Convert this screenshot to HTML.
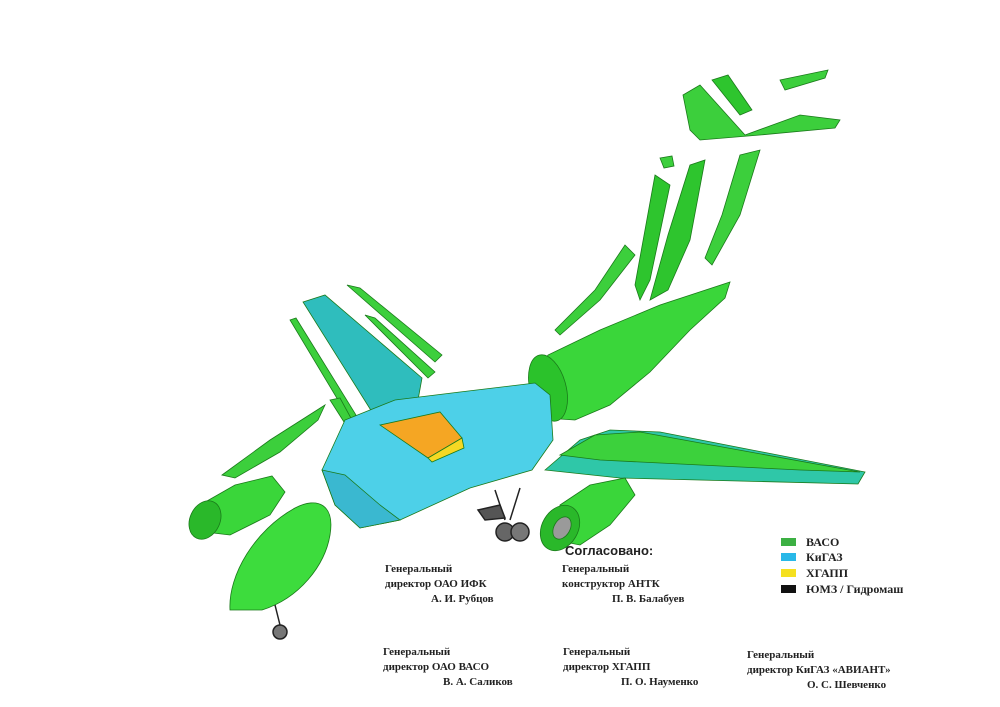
<!DOCTYPE html>
<html><head><meta charset="utf-8"><style>
body{margin:0;background:#fff;width:1000px;height:707px;overflow:hidden;position:relative}
svg{position:absolute;left:0;top:0}
.t{position:absolute;font-family:"Liberation Serif",serif;font-weight:bold;font-size:11px;line-height:15px;color:#222}
.s{position:absolute;font-family:"Liberation Sans",sans-serif;font-weight:bold;font-size:13px;color:#222}
</style></head><body>
<svg width="1000" height="707" viewBox="0 0 1000 707">
<g stroke="#1a7a1a" stroke-width="0.8">
<polygon points="683,95 700,85 745,135 800,115 840,120 835,128 760,135 700,140 690,130" fill="#3ccf3c"/>
<polygon points="712,80 728,75 752,110 740,115" fill="#2ec52e"/>
<polygon points="780,80 828,70 825,78 785,90" fill="#3ccf3c"/>
<polygon points="660,158 672,156 674,166 664,168" fill="#3ccf3c"/>
<polygon points="690,165 705,160 690,240 668,290 650,300 668,235" fill="#2ec52e"/>
<polygon points="740,155 760,150 740,215 712,265 705,258 722,215" fill="#3ccf3c"/>
<polygon points="625,245 635,255 600,300 560,335 555,330 595,290" fill="#3ccf3c"/>
<polygon points="655,175 670,185 650,280 640,300 635,285" fill="#2ec52e"/>
<polygon points="530,385 548,355 600,330 660,305 730,282 725,298 690,330 650,372 610,405 575,420 545,418" fill="#3ad63a"/>
<ellipse cx="548" cy="388" rx="18" ry="34" transform="rotate(-15 548 388)" fill="#2bc22b"/>
<polygon points="545,470 580,440 610,430 660,432 865,472 858,484 620,478" fill="#2fc7a8"/>
<polygon points="560,455 595,435 640,432 860,472 800,470 600,460" fill="#3cd13c"/>
<polygon points="560,505 590,485 625,478 635,495 610,525 580,545 555,540" fill="#3ad63a"/>
<ellipse cx="560" cy="528" rx="18" ry="24" transform="rotate(30 560 528)" fill="#2ab82a"/>
<ellipse cx="562" cy="528" rx="8" ry="12" transform="rotate(30 562 528)" fill="#9a9a9a"/>
<polygon points="303,302 325,295 422,378 418,400 372,412" fill="#2fbdbd"/>
<polygon points="347,285 360,288 442,355 435,362" fill="#3ccf3c"/>
<polygon points="365,315 375,318 435,372 428,378" fill="#3ccf3c"/>
<polygon points="290,320 296,318 356,415 350,420" fill="#3ccf3c"/>
<polygon points="330,400 340,398 352,420 344,422" fill="#3ccf3c"/>
<polygon points="222,475 270,440 325,405 318,420 280,452 235,478" fill="#3ccf3c"/>
<polygon points="200,505 235,485 272,476 285,492 270,515 230,535 205,532" fill="#3ad63a"/>
<ellipse cx="205" cy="520" rx="15" ry="20" transform="rotate(25 205 520)" fill="#2ab82a"/>
<polygon points="322,470 345,420 395,400 460,392 535,383 550,395 553,440 532,470 470,488 400,520 360,528 335,505" fill="#4dd0e8"/>
<polygon points="322,470 335,505 360,528 400,520 380,505 345,475" fill="#3ab8d0"/>
<polygon points="380,425 440,412 462,438 428,458" fill="#f5a623"/>
<polygon points="428,458 462,438 464,448 432,462" fill="#f5d823"/>
<path d="M230,610 C228,575 255,530 295,508 C318,496 335,505 330,535 C325,565 300,598 262,610 Z" fill="#3ddc3d"/>
</g>
<g fill="#444" stroke="#222" stroke-width="1.5">
<line x1="495" y1="490" x2="505" y2="520"/><line x1="520" y1="488" x2="510" y2="520"/>
<polygon points="478,510 500,505 505,518 485,520" fill="#555"/>
<circle cx="505" cy="532" r="9" fill="#666"/><circle cx="520" cy="532" r="9" fill="#777"/>
<line x1="275" y1="605" x2="280" y2="625"/>
<circle cx="280" cy="632" r="7" fill="#777"/>
</g>
<g font-family="Liberation Serif,serif" font-weight="bold" font-size="12" fill="#222">
<rect x="781" y="538" width="15" height="8" fill="#3cb043"/><text x="806" y="546">ВАСО</text>
<rect x="781" y="553" width="15" height="8" fill="#29b8e8"/><text x="806" y="561">КиГАЗ</text>
<rect x="781" y="569" width="15" height="8" fill="#f5e020"/><text x="806" y="577">ХГАПП</text>
<rect x="781" y="585" width="15" height="8" fill="#111"/><text x="806" y="593">ЮМЗ / Гидромаш</text>
</g>
</svg>
<div class="s" style="left:565px;top:543px">Согласовано:</div>
<div class="t" style="left:385px;top:562px;width:125px">Генеральный<br>директор ОАО ИФК<br><span style="padding-left:46px">А. И. Рубцов</span></div>
<div class="t" style="left:562px;top:562px;width:160px">Генеральный<br>конструктор АНТК<br><span style="padding-left:50px">П. В. Балабуев</span></div>
<div class="t" style="left:383px;top:645px;width:160px">Генеральный<br>директор ОАО ВАСО<br><span style="padding-left:60px">В. А. Саликов</span></div>
<div class="t" style="left:563px;top:645px;width:160px">Генеральный<br>директор ХГАПП<br><span style="padding-left:58px">П. О. Науменко</span></div>
<div class="t" style="left:747px;top:648px;width:220px">Генеральный<br>директор КиГАЗ «АВИАНТ»<br><span style="padding-left:60px">О. С. Шевченко</span></div>
</body></html>
